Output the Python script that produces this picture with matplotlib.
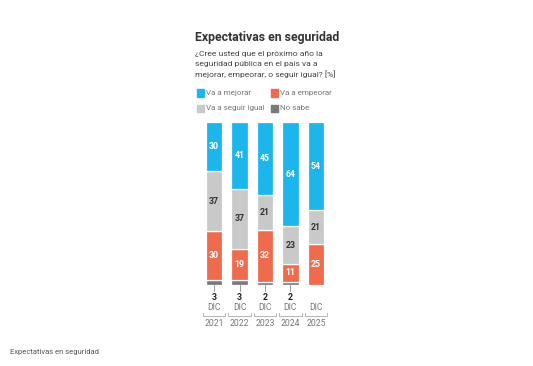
import matplotlib.pyplot as plt

plt.rcParams['font.family'] = ['Roboto', 'DejaVu Sans']

anios = ['2021', '2022', '2023', '2024', '2025']
no_sabe = [3, 3, 2, 2, 0]
empeorar = [30, 19, 32, 11, 25]
igual = [37, 37, 21, 23, 21]
mejorar = [30, 41, 45, 64, 54]

c_mejorar = '#1cb6ec'
c_empeorar = '#ee6b4d'
c_igual = '#c9c9c9'
c_nosabe = '#7a7a7a'

W, H = 533, 366
fig = plt.figure(figsize=(W / 100, H / 100), dpi=100)

def px(x, y):
    return x / W, 1 - y / H

# ejes de las barras: x 200..330 px, y 122..285 px
ax = fig.add_axes([200 / W, (H - 285) / H, 130 / W, 163 / H])
ax.set_xlim(-0.55, 4.55)
ax.set_ylim(0, 100)
ax.axis('off')

x = list(range(len(anios)))
ancho = 0.64
series = [(no_sabe, c_nosabe), (empeorar, c_empeorar), (igual, c_igual), (mejorar, c_mejorar)]
base = [0] * len(anios)
for vals, col in series:
    ax.bar(x, vals, ancho, bottom=base, color=col, edgecolor='white', linewidth=0.9)
    for i, v in enumerate(vals):
        if v > 0 and col != c_nosabe:
            tc = '#333333' if col == c_igual else 'white'
            ax.text(i, base[i] + v / 2, str(v), ha='center', va='center',
                    fontsize=6.3, color=tc, fontweight='bold')
    base = [b + v for b, v in zip(base, vals)]

tr = ax.get_xaxis_transform()
def ay(ypx):
    return (285 - ypx) / 163

for i, v in enumerate(no_sabe):
    if v > 0:
        ax.plot([i, i], [ay(285), ay(291)], color='#888888', lw=0.6, transform=tr, clip_on=False)
        ax.text(i, ay(298), str(v), ha='center', va='center', fontsize=6.3,
                fontweight='bold', color='#222222', transform=tr)
    ax.text(i, ay(308), 'DIC', ha='center', va='center', fontsize=6.2, color='#777777', transform=tr)
    ax.text(i, ay(324), anios[i], ha='center', va='center', fontsize=6.2, color='#777777', transform=tr)
    h = 0.44
    ax.plot([i - h, i - h, i + h, i + h], [ay(313), ay(316), ay(316), ay(313)],
            color='#aaaaaa', lw=0.6, transform=tr, clip_on=False)

fig.text(*px(195, 37), 'Expectativas en seguridad', fontsize=8.8, fontweight='semibold',
         color='#333333', va='center', ha='left')
for yy, linea in zip([54, 64, 74], ['¿Cree usted que el próximo año la',
                                    'seguridad pública en el país va a',
                                    'mejorar, empeorar, o seguir igual? [%]']):
    fig.text(*px(195, yy), linea, fontsize=6.1, color='#444444', va='center', ha='left')

leyenda = [('Va a mejorar', c_mejorar, 197, 93), ('Va a empeorar', c_empeorar, 271, 93),
           ('Va a seguir igual', c_igual, 197, 108), ('No sabe', c_nosabe, 271, 108)]
for txt, col, lx, ly in leyenda:
    fig.patches.append(plt.Rectangle(px(lx, ly + 3.5), 7 / W, 7 / H, color=col,
                                     transform=fig.transFigure, figure=fig))
    fig.text(*px(lx + 9, ly), txt, fontsize=5.8, color='#777777', va='center', ha='left')

fig.text(*px(10, 352), 'Expectativas en seguridad', fontsize=5.5, color='#555555',
         va='center', ha='left')

fig.savefig('out.png', dpi=100)
